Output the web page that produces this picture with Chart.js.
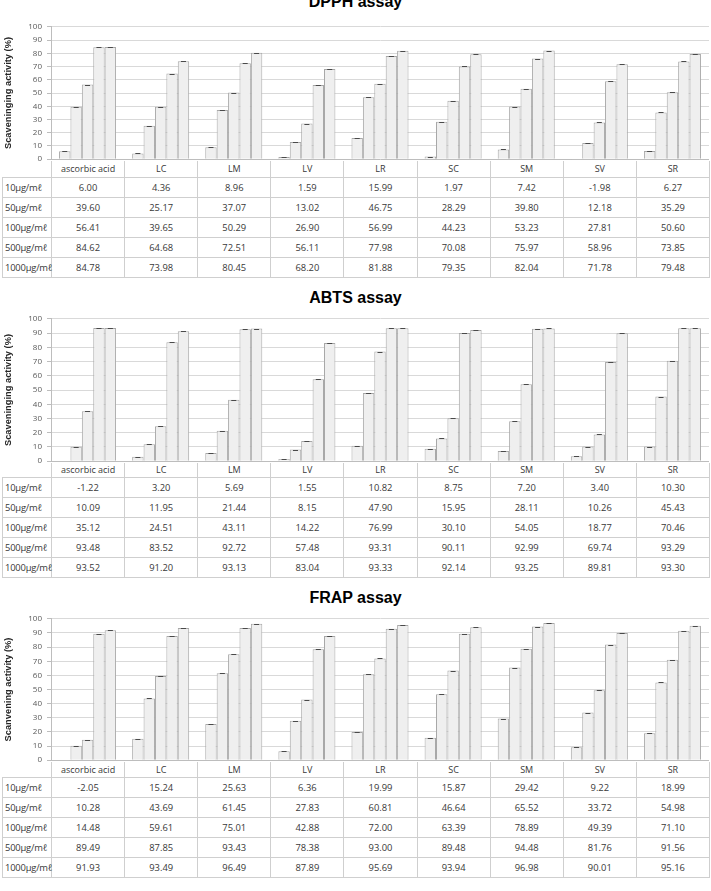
<!DOCTYPE html>
<html>
<head>
<meta charset="utf-8">
<script src="https://cdn.jsdelivr.net/npm/chart.js@4.4.1/dist/chart.umd.min.js"></script>
<style>
  body { margin: 0; background: #fff; width: 711px; height: 891px; overflow: hidden; position: relative; }
  .title { position: absolute; left: 0; width: 711px; text-align: center; font: bold 16px 'Liberation Sans', Arial, sans-serif; line-height: 18px; color: #000; }
  canvas { position: absolute; left: 0; z-index: 2; }
  table { position: absolute; left: 2px; border-collapse: collapse; table-layout: fixed; width: 707px;
          font-family: 'Open Sans', sans-serif; font-size: 9.4px; color: #383838; }
  td { border: 1px solid #cfcfcf; text-align: center; padding: 0; white-space: nowrap; overflow: visible; }
  td.lab { text-align: left; padding-left: 2px; letter-spacing: -0.2px; }
  tr.head td { border-top: none; font-size: 9px; }
  tr.head td.blank { border: none; }
</style>
</head>
<body>
<script>
// categories and row labels
const categories = ['ascorbic acid', 'LC', 'LM', 'LV', 'LR', 'SC', 'SM', 'SV', 'SR'];
const concLabels = ['10μg/mℓ', '50μg/mℓ', '100μg/mℓ', '500μg/mℓ', '1000μg/mℓ'];

// DPPH assay
const dpph10   = [6.00, 4.36, 8.96, 1.59, 15.99, 1.97, 7.42, -1.98, 6.27];
const dpph50   = [39.60, 25.17, 37.07, 13.02, 46.75, 28.29, 39.80, 12.18, 35.29];
const dpph100  = [56.41, 39.65, 50.29, 26.90, 56.99, 44.23, 53.23, 27.81, 50.60];
const dpph500  = [84.62, 64.68, 72.51, 56.11, 77.98, 70.08, 75.97, 58.96, 73.85];
const dpph1000 = [84.78, 73.98, 80.45, 68.20, 81.88, 79.35, 82.04, 71.78, 79.48];

// ABTS assay
const abts10   = [-1.22, 3.20, 5.69, 1.55, 10.82, 8.75, 7.20, 3.40, 10.30];
const abts50   = [10.09, 11.95, 21.44, 8.15, 47.90, 15.95, 28.11, 10.26, 45.43];
const abts100  = [35.12, 24.51, 43.11, 14.22, 76.99, 30.10, 54.05, 18.77, 70.46];
const abts500  = [93.48, 83.52, 92.72, 57.48, 93.31, 90.11, 92.99, 69.74, 93.29];
const abts1000 = [93.52, 91.20, 93.13, 83.04, 93.33, 92.14, 93.25, 89.81, 93.30];

// FRAP assay
const frap10   = [-2.05, 15.24, 25.63, 6.36, 19.99, 15.87, 29.42, 9.22, 18.99];
const frap50   = [10.28, 43.69, 61.45, 27.83, 60.81, 46.64, 65.52, 33.72, 54.98];
const frap100  = [14.48, 59.61, 75.01, 42.88, 72.00, 63.39, 78.89, 49.39, 71.10];
const frap500  = [89.49, 87.85, 93.43, 78.38, 93.00, 89.48, 94.48, 81.76, 91.56];
const frap1000 = [91.93, 93.49, 96.49, 87.89, 95.69, 93.94, 96.98, 90.01, 95.16];

const yTicks = { min: 0, max: 100, step: 10 };

// small dark caps on top of each bar (error bar ends)
const capPlugin = {
  id: 'caps',
  afterDatasetsDraw(chart) {
    const ctx = chart.ctx;
    ctx.save();
    ctx.strokeStyle = '#4a4a4a';
    ctx.lineWidth = 1;
    chart.data.datasets.forEach((ds, i) => {
      chart.getDatasetMeta(i).data.forEach((bar, j) => {
        if (ds.data[j] <= 0) return;
        const half = bar.width * 0.22;
        const y = Math.round(bar.y) + 0.5;
        ctx.beginPath();
        ctx.moveTo(bar.x - half, y);
        ctx.lineTo(bar.x + half, y);
        ctx.stroke();
      });
    });
    ctx.restore();
  }
};

function buildPanel(p) {
  const title = document.createElement('div');
  title.className = 'title';
  title.style.top = p.titleTop + 'px';
  title.textContent = p.title;
  document.body.appendChild(title);

  const pad = 8;
  const canvas = document.createElement('canvas');
  canvas.width = 711;
  canvas.height = p.plotBottom - p.plotTop + pad * 2;
  canvas.style.top = (p.plotTop - pad) + 'px';
  document.body.appendChild(canvas);

  new Chart(canvas, {
    type: 'bar',
    data: {
      labels: categories,
      datasets: p.series.map((vals, i) => ({
        label: concLabels[i],
        data: vals,
        backgroundColor: '#efefef',
        borderColor: '#a8a8a8',
        borderWidth: 1,
        categoryPercentage: 0.78,
        barPercentage: 1.0
      }))
    },
    options: {
      responsive: false,
      animation: false,
      layout: { padding: { top: pad, bottom: pad, left: 0, right: 2 } },
      plugins: { legend: { display: false }, title: { display: false }, tooltip: { enabled: false } },
      scales: {
        x: { display: false },
        y: {
          min: yTicks.min,
          max: yTicks.max,
          afterFit: (scale) => { scale.width = 51; },
          border: { display: true, color: '#bdbdbd' },
          grid: {
            color: (c) => c.tick && c.tick.value === 0 ? '#bdbdbd' : '#d9d9d9',
            tickLength: 4,
            tickColor: '#bdbdbd'
          },
          ticks: {
            stepSize: yTicks.step,
            padding: 5,
            color: '#595959',
            font: { family: 'Open Sans', size: 8 }
          },
          title: {
            display: true,
            text: p.yTitle,
            color: '#262626',
            padding: { top: 3, bottom: 0 },
            font: { family: 'Liberation Sans', size: 9.3, weight: 'bold' }
          }
        }
      }
    },
    plugins: [capPlugin]
  });

  // data table under the plot
  const table = document.createElement('table');
  table.style.top = p.plotBottom + 'px';
  const colgroup = document.createElement('colgroup');
  const c0 = document.createElement('col');
  c0.style.width = '49px';
  colgroup.appendChild(c0);
  categories.forEach(() => {
    const c = document.createElement('col');
    c.style.width = (658 / categories.length) + 'px';
    colgroup.appendChild(c);
  });
  table.appendChild(colgroup);

  const head = document.createElement('tr');
  head.className = 'head';
  head.style.height = p.headH + 'px';
  const blank = document.createElement('td');
  blank.className = 'blank';
  head.appendChild(blank);
  categories.forEach(cat => {
    const td = document.createElement('td');
    td.textContent = cat;
    head.appendChild(td);
  });
  table.appendChild(head);

  p.series.forEach((vals, i) => {
    const tr = document.createElement('tr');
    tr.style.height = p.rowH + 'px';
    const lab = document.createElement('td');
    lab.className = 'lab';
    lab.textContent = concLabels[i];
    tr.appendChild(lab);
    vals.forEach(v => {
      const td = document.createElement('td');
      td.textContent = v.toFixed(2);
      tr.appendChild(td);
    });
    table.appendChild(tr);
  });
  document.body.appendChild(table);
}

buildPanel({
  title: 'DPPH assay', yTitle: 'Scaveninging activity (%)',
  titleTop: -7, plotTop: 25, plotBottom: 161, headH: 16, rowH: 20,
  series: [dpph10, dpph50, dpph100, dpph500, dpph1000]
});
buildPanel({
  title: 'ABTS assay', yTitle: 'Scaveninging activity (%)',
  titleTop: 289, plotTop: 317, plotBottom: 463, headH: 14, rowH: 20.2,
  series: [abts10, abts50, abts100, abts500, abts1000]
});
buildPanel({
  title: 'FRAP assay', yTitle: 'Scanvening activity (%)',
  titleTop: 589, plotTop: 617, plotBottom: 762, headH: 15, rowH: 20.2,
  series: [frap10, frap50, frap100, frap500, frap1000]
});
</script>
</body>
</html>
